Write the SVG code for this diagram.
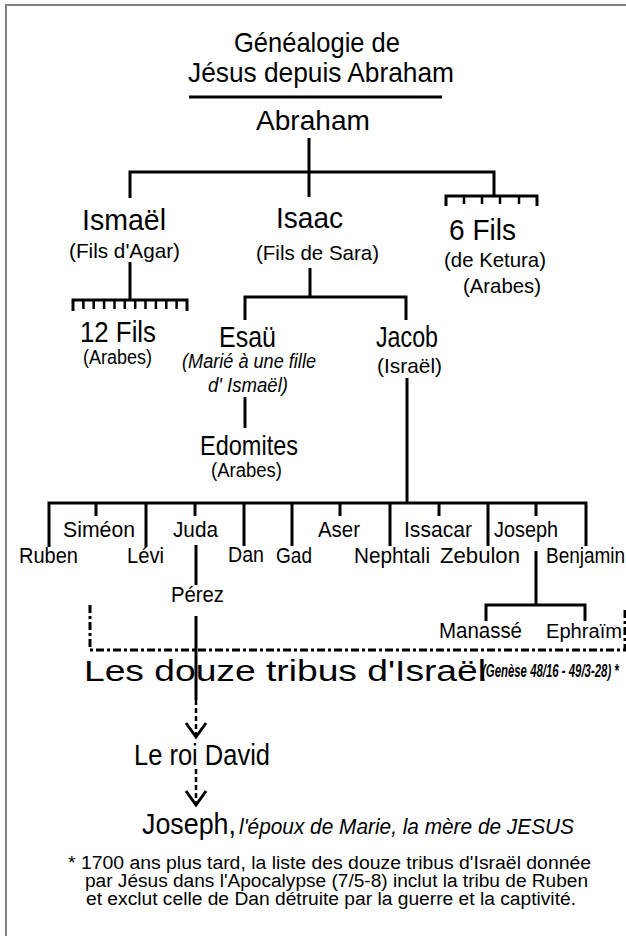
<svg xmlns="http://www.w3.org/2000/svg" width="626" height="936" viewBox="0 0 626 936">
<style>
text{font-family:"Liberation Sans",Arial,sans-serif;fill:#000}
.ln{stroke:#000;stroke-width:3;fill:none}
.tk{stroke:#000;stroke-width:2.5;fill:none}
.dd{stroke:#000;stroke-width:3;fill:none;stroke-dasharray:8 3 3 3}
.dt{stroke:#000;stroke-width:2.5;fill:none;stroke-dasharray:5 3}
.it{font-style:italic}
</style>
<rect width="626" height="936" fill="#fff"/>
<path d="M6,936 V5 H626" stroke="#808080" stroke-width="2" fill="none"/>
<g id="title">
<text x="234" y="52" font-size="28" textLength="166" lengthAdjust="spacingAndGlyphs">Généalogie de</text>
<text x="188" y="82" font-size="28" textLength="266" lengthAdjust="spacingAndGlyphs">Jésus depuis Abraham</text>
<line class="ln" x1="189" y1="97" x2="442" y2="97"/>
</g>
<g id="abraham"><text x="256" y="130" font-size="28" textLength="114" lengthAdjust="spacingAndGlyphs">Abraham</text></g>
<g id="ismael">
<text x="82" y="230" font-size="30" textLength="84" lengthAdjust="spacingAndGlyphs">Ismaël</text>
<text x="69" y="258" font-size="21" textLength="111" lengthAdjust="spacingAndGlyphs">(Fils d'Agar)</text>
</g>
<g id="isaac">
<text x="276" y="228" font-size="30" textLength="67" lengthAdjust="spacingAndGlyphs">Isaac</text>
<text x="256" y="260" font-size="21" textLength="123" lengthAdjust="spacingAndGlyphs">(Fils de Sara)</text>
</g>
<g id="sixfils">
<text x="449" y="240" font-size="30" textLength="67" lengthAdjust="spacingAndGlyphs">6 Fils</text>
<text x="444" y="267" font-size="21" textLength="102" lengthAdjust="spacingAndGlyphs">(de Ketura)</text>
<text x="463" y="293" font-size="21" textLength="78" lengthAdjust="spacingAndGlyphs">(Arabes)</text>
</g>
<g id="douzefils">
<text x="80" y="342" font-size="30" textLength="76" lengthAdjust="spacingAndGlyphs">12 Fils</text>
<text x="83" y="364" font-size="20" textLength="69" lengthAdjust="spacingAndGlyphs">(Arabes)</text>
</g>
<g id="esau">
<text x="219" y="347" font-size="30" textLength="57" lengthAdjust="spacingAndGlyphs">Esaü</text>
<text class="it" x="182" y="368" font-size="20" textLength="134" lengthAdjust="spacingAndGlyphs">(Marié à une fille</text>
<text class="it" x="208" y="392" font-size="20" textLength="80" lengthAdjust="spacingAndGlyphs">d' Ismaël)</text>
</g>
<g id="jacob">
<text x="376" y="347" font-size="29" textLength="62" lengthAdjust="spacingAndGlyphs">Jacob</text>
<text x="377" y="373" font-size="21" textLength="65" lengthAdjust="spacingAndGlyphs">(Israël)</text>
</g>
<g id="edomites">
<text x="200" y="455" font-size="28" textLength="98" lengthAdjust="spacingAndGlyphs">Edomites</text>
<text x="211" y="477" font-size="20" textLength="71" lengthAdjust="spacingAndGlyphs">(Arabes)</text>
</g>
<g id="tribes" font-size="22">
<text id="simeon" x="63" y="537" textLength="72" lengthAdjust="spacingAndGlyphs">Siméon</text>
<text id="juda" x="173" y="537" textLength="45" lengthAdjust="spacingAndGlyphs">Juda</text>
<text id="aser" x="318" y="537" textLength="42" lengthAdjust="spacingAndGlyphs">Aser</text>
<text id="issacar" x="404" y="537" textLength="68" lengthAdjust="spacingAndGlyphs">Issacar</text>
<text id="joseph1" x="494" y="537" textLength="64" lengthAdjust="spacingAndGlyphs">Joseph</text>
<text id="ruben" x="19" y="563" textLength="59" lengthAdjust="spacingAndGlyphs">Ruben</text>
<text id="levi" x="127" y="563" textLength="37" lengthAdjust="spacingAndGlyphs">Lévi</text>
<text id="dan" x="228" y="562" textLength="36" lengthAdjust="spacingAndGlyphs">Dan</text>
<text id="gad" x="276" y="563" textLength="36" lengthAdjust="spacingAndGlyphs">Gad</text>
<text id="nephtali" x="354" y="563" textLength="76" lengthAdjust="spacingAndGlyphs">Nephtali</text>
<text id="zebulon" x="440" y="563" textLength="80" lengthAdjust="spacingAndGlyphs">Zebulon</text>
<text id="benjamin" transform="translate(546,563) scale(0.86,1)" x="0" y="0" textLength="92" lengthAdjust="spacingAndGlyphs">Benjamin</text>
<text id="perez" x="171" y="602" textLength="53" lengthAdjust="spacingAndGlyphs">Pérez</text>
<text id="manasse" x="439" y="638" textLength="83" lengthAdjust="spacingAndGlyphs">Manassé</text>
<text id="ephraim" x="546" y="638" font-size="20" textLength="76" lengthAdjust="spacingAndGlyphs">Ephraïm</text>
</g>
<g id="douzetribus">
<text x="84" y="681" font-size="30" textLength="402" lengthAdjust="spacingAndGlyphs">Les douze tribus d'Israël</text>
<text class="it" transform="translate(482,677) scale(0.6,1)" x="0" y="0" font-size="18" font-weight="bold" textLength="228" lengthAdjust="spacingAndGlyphs">(Genèse 48/16 - 49/3-28) *</text>
</g>
<g id="david"><text x="134" y="765" font-size="29" textLength="136" lengthAdjust="spacingAndGlyphs">Le roi David</text></g>
<g id="joseph">
<text x="142" y="834" font-size="30" textLength="94" lengthAdjust="spacingAndGlyphs">Joseph,</text>
<text class="it" x="239" y="834" font-size="22" textLength="335" lengthAdjust="spacingAndGlyphs">l'époux de Marie, la mère de JESUS</text>
</g>
<g id="footnote" font-size="18">
<text x="68" y="869" textLength="523" lengthAdjust="spacingAndGlyphs">* 1700 ans plus tard, la liste des douze tribus d'Israël donnée</text>
<text x="85" y="887" textLength="503" lengthAdjust="spacingAndGlyphs">par Jésus dans l'Apocalypse (7/5-8) inclut la tribu de Ruben</text>
<text x="86" y="905" textLength="490" lengthAdjust="spacingAndGlyphs">et exclut celle de Dan détruite par la guerre et la captivité.</text>
</g>
<g id="connectors">
<path class="ln" d="M309,138 V172 M130,198 V172 H494 V196 M309,172 V197"/>
<path class="ln" d="M446,206 V196 H537 V206"/>
<path class="tk" d="M464,196 V204 M482,196 V204 M500,196 V204 M519,196 V204"/>
<path class="ln" d="M130,262 V300 M73,311 V300 H187 V311"/>
<path class="tk" d="M83.4,300 V309 M93.7,300 V309 M104.1,300 V309 M114.5,300 V309 M124.8,300 V309 M135.2,300 V309 M145.5,300 V309 M155.9,300 V309 M166.3,300 V309 M176.6,300 V309"/>
<path class="ln" d="M310,268 V297 M245,320 V297 H406 V320"/>
<path class="ln" d="M245,397 V428"/>
<path class="ln" d="M407,378 V503"/>
<path class="ln" d="M49,547 V503 H586 V546"/>
<path class="ln" d="M96,503 V516 M146,503 V547 M195,503 V516 M244,503 V546 M292,503 V546 M340,503 V516 M390,503 V546 M439,503 V516 M488,503 V546 M536,503 V516"/>
<path class="ln" d="M196,545 V585"/>
<path class="ln" d="M536,551 V605 M486,621 V605 H585 V621"/>
<path class="dd" d="M90,605 V650 H625 V607"/>
<path class="ln" d="M196,616 V700"/>
<path class="dt" d="M196,700 V735"/>
<path class="ln" d="M186,723 L196,737 L206,723"/>
<path class="dt" d="M196,769 V802"/>
<path class="ln" d="M186,791 L196,805 L206,791"/>
</g>
</svg>
